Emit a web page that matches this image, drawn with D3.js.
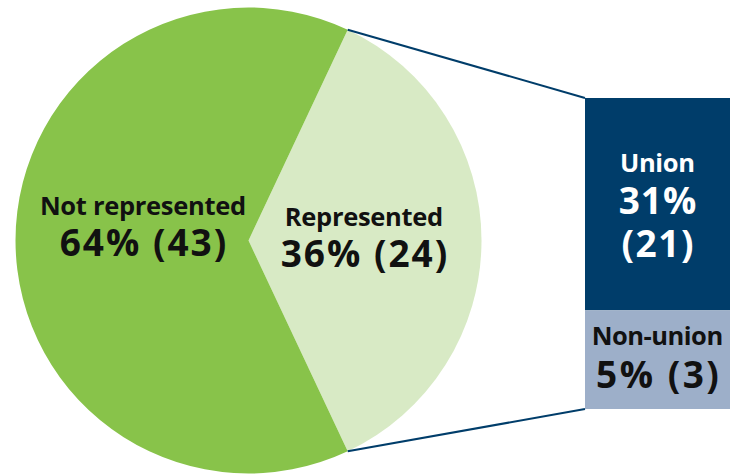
<!DOCTYPE html>
<html>
<head>
<meta charset="utf-8">
<script src="https://cdn.jsdelivr.net/npm/d3@7"></script>
<style>
  html, body { margin: 0; padding: 0; background: #fff; }
  svg { display: block; }
  text { font-family: "Open Sans", "Lato", sans-serif; font-weight: 700; }
</style>
</head>
<body>
<svg id="chart" width="730" height="476"></svg>
<script>
// Representation shares (percent) and head counts
const pieCategories = ["Represented", "Not represented"];
const pieShares = [36, 64];
const pieCounts = [24, 43];

const barCategories = ["Union", "Non-union"];
const barShares = [31, 5];
const barCounts = [21, 3];

const pieColors = ["#d8eac5", "#88c34a"];
const barColors = ["#003d6a", "#9dafc9"];
const barTextColors = ["#ffffff", "#111111"];

const svg = d3.select("#chart");

// ---- Pie ----
const cx = 248.5, cy = 240.5, R = 233;
const repFrac = pieShares[0] / d3.sum(pieShares);
const start = Math.PI / 2 - repFrac * Math.PI;

const pie = d3.pie().sort(null).value(d => d.share)
  .startAngle(start).endAngle(start + 2 * Math.PI);
const pieData = pie(pieCategories.map((c, i) => ({ cat: c, share: pieShares[i], count: pieCounts[i], color: pieColors[i] })));
const arc = d3.arc().innerRadius(0).outerRadius(R);

const g = svg.append("g").attr("transform", `translate(${cx},${cy})`);
g.selectAll("path").data(pieData).join("path")
  .attr("d", arc)
  .attr("fill", d => d.data.color);

// ---- Stacked bar for the represented share ----
const barX = 585, barW = 145, barTop = 98, barBottom = 409;
// segments are drawn on a compressed (power) scale so the small one stays readable
const pw = d3.scalePow().exponent(0.42).domain([0, 1]).range([0, 1]);
const weights = barShares.map(v => pw(v));
const yScale = d3.scaleLinear().domain([0, d3.sum(weights)]).range([barTop, barBottom]);
let acc = 0;
const segs = barCategories.map((c, i) => {
  const s = { cat: c, share: barShares[i], count: barCounts[i], y0: yScale(acc), y1: yScale(acc + weights[i]), color: barColors[i], tc: barTextColors[i] };
  acc += weights[i];
  return s;
});

svg.selectAll("rect.seg").data(segs).join("rect")
  .attr("class", "seg")
  .attr("x", barX).attr("width", barW)
  .attr("y", d => d.y0).attr("height", d => d.y1 - d.y0)
  .attr("fill", d => d.color);

// ---- Connector lines from the represented slice to the bar ----
const rep = pieData[0];
const p0 = [cx + R * Math.sin(rep.startAngle), cy - R * Math.cos(rep.startAngle)];
const p1 = [cx + R * Math.sin(rep.endAngle), cy - R * Math.cos(rep.endAngle)];
svg.append("line").attr("x1", p0[0]).attr("y1", p0[1]).attr("x2", barX).attr("y2", barTop)
  .attr("stroke", "#003d6a").attr("stroke-width", 2);
svg.append("line").attr("x1", p1[0]).attr("y1", p1[1]).attr("x2", barX).attr("y2", barBottom)
  .attr("stroke", "#003d6a").attr("stroke-width", 2);

// ---- Labels ----
const notRep = pieData[1].data, repD = pieData[0].data;
function label(x, lines, fill) {
  const t = svg.append("text").attr("text-anchor", "middle").attr("fill", fill);
  lines.forEach(l => {
    const ls = l.ls || 0;
    // shift by half the trailing letter-spacing so centred lines stay centred
    t.append("tspan").attr("x", x + ls / 2).attr("y", l.y).attr("font-size", l.size)
      .attr("letter-spacing", ls).text(l.text);
  });
}
label(143, [
  { text: notRep.cat, y: 215, size: 25.5, ls: -0.3 },
  { text: `${notRep.share}% (${notRep.count})`, y: 256, size: 37, ls: 2 }
], "#111");
label(364, [
  { text: repD.cat, y: 226, size: 25.5, ls: -0.3 },
  { text: `${repD.share}% (${repD.count})`, y: 267, size: 37, ls: 2 }
], "#111");

const bx = barX + barW / 2;
const u = segs[0], n = segs[1];
label(bx, [
  { text: u.cat, y: 172, size: 25.5, ls: -0.3 },
  { text: `${u.share}%`, y: 214, size: 37, ls: 1 },
  { text: `(${u.count})`, y: 257, size: 37, ls: 1.5 }
], u.tc);
label(bx, [
  { text: n.cat, y: 345, size: 25.5, ls: -0.5 },
  { text: `${n.share}% (${n.count})`, y: 388, size: 37, ls: 2.5 }
], n.tc);
</script>
</body>
</html>
